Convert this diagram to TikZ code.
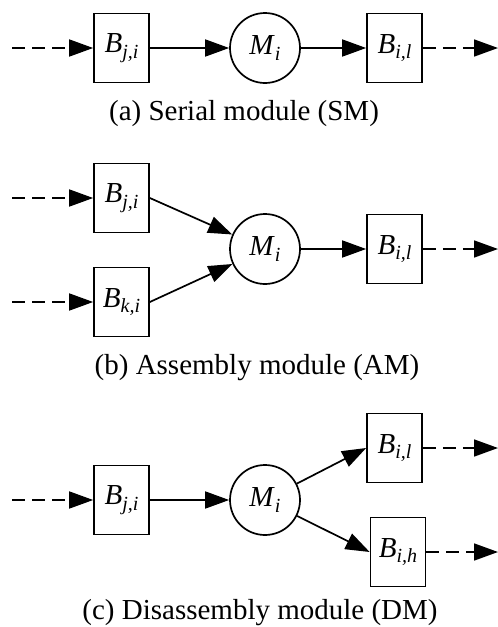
\documentclass[tikz,border=0pt]{standalone}
\usepackage{fontspec}
\setmainfont{Liberation Serif}
\usetikzlibrary{arrows.meta}

\newcommand\blbl[2]{\textit{#1}\raisebox{-0.2em}{\fontsize{20}{20}\selectfont\textit{#2}}}

\begin{document}
\begin{tikzpicture}[x=1pt, y=1pt,
buffer/.style={draw, line width=1.7pt, minimum width=55pt, minimum height=69pt, inner sep=0pt, font=\fontsize{29}{34}\selectfont},
machine/.style={draw, circle, line width=1.7pt, minimum size=70pt, inner sep=0pt, font=\fontsize{29}{34}\selectfont},
caption/.style={font=\fontsize{29}{34}\selectfont, inner sep=0pt},
flow/.style={line width=1.7pt, -{Triangle[length=24pt, width=17pt]}},
feed/.style={flow, dash pattern=on 13pt off 7pt}]

\useasboundingbox (0,0) rectangle (498,-627);

% (a) serial module
\node[buffer] (SMin) at (121.5,-48) {\blbl{B}{j,i}};
\node[machine] (SMm) at (265,-48) {\blbl{M}{i}};
\node[buffer] (SMout) at (394.5,-48) {\blbl{B}{i,l}};
\coordinate (SMsrc) at (12,-48);
\coordinate (SMdst) at (498,-48);
\node[caption] (SMcap) at (244,-114) {(a) Serial module (SM)};

\draw[feed] (SMsrc)--(SMin);
\draw[flow] (SMin)--(SMm);
\draw[flow] (SMm)--(SMout);
\draw[feed] (SMout)--(SMdst);

% (b) assembly module
\node[buffer] (AMin1) at (121.5,-198) {\blbl{B}{j,i}};
\node[buffer] (AMin2) at (121.5,-302) {\blbl{B}{k,i}};
\node[machine] (AMm) at (265,-249) {\blbl{M}{i}};
\node[buffer] (AMout) at (394.5,-249) {\blbl{B}{i,l}};
\coordinate (AMsrc1) at (12,-198);
\coordinate (AMsrc2) at (12,-302);
\coordinate (AMdst) at (498,-249);
\node[caption] (AMcap) at (257,-368) {(b) Assembly module (AM)};

\draw[feed] (AMsrc1)--(AMin1);
\draw[feed] (AMsrc2)--(AMin2);
\draw[flow] (AMin1.east)--(AMm);
\draw[flow] (AMin2.east)--(AMm);
\draw[flow] (AMm)--(AMout);
\draw[feed] (AMout)--(AMdst);

% (c) disassembly module
\node[buffer] (DMin) at (121.5,-500) {\blbl{B}{j,i}};
\node[machine] (DMm) at (265,-500) {\blbl{M}{i}};
\node[buffer] (DMout1) at (394.5,-448) {\blbl{B}{i,l}};
\node[buffer] (DMout2) at (398,-552) {\blbl{B}{i,h}};
\coordinate (DMsrc) at (12,-500);
\coordinate (DMdst1) at (498,-448);
\coordinate (DMdst2) at (498,-552);
\node[caption] (DMcap) at (260,-613) {(c) Disassembly module (DM)};

\draw[feed] (DMsrc)--(DMin);
\draw[flow] (DMin)--(DMm);
\draw[flow] (DMm)--(DMout1.west);
\draw[flow] (DMm)--(DMout2.west);
\draw[feed] (DMout1)--(DMdst1);
\draw[feed] (DMout2)--(DMdst2);

\end{tikzpicture}
\end{document}
